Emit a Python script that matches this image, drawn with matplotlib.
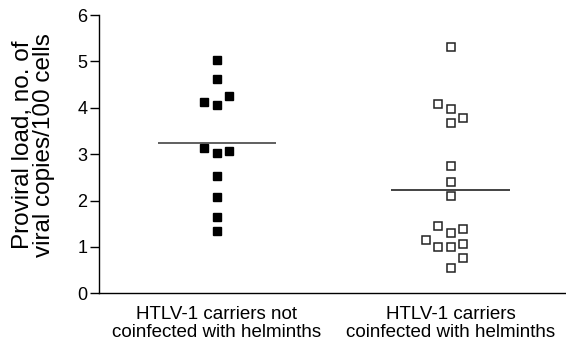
import matplotlib.pyplot as plt
import numpy as np

plt.rcParams['font.family'] = ['Liberation Sans', 'DejaVu Sans']

groups = ["HTLV-1 carriers not\ncoinfected with helminths",
          "HTLV-1 carriers\ncoinfected with helminths"]

# proviral load
no_helm = [5.02, 4.62, 4.25, 4.12, 4.07, 3.14, 3.02, 3.07, 2.53, 2.08, 1.64, 1.35]
no_helm_off = [0, 0, 1, -1, 0, -1, 0, 1, 0, 0, 0, 0]
helm = [5.30, 4.08, 3.97, 3.77, 3.68, 2.74, 2.39, 2.10, 1.45, 1.31, 1.39,
        1.15, 1.00, 1.00, 1.06, 0.75, 0.55]
helm_off = [0, -1, 0, 1, 0, 0, 0, 0, -1, 0, 1, -2, -1, 0, 1, 1, 0]

fig = plt.figure(figsize=(5.66, 3.45), dpi=100)
ax = fig.add_axes([0.175, 0.15, 0.825, 0.8065])

step = 0.053
ax.plot(1 + np.array(no_helm_off) * step, no_helm, "s", color="black",
        markersize=6.2, linestyle="none")
ax.plot(2 + np.array(helm_off) * step, helm, "s", markerfacecolor="white",
        markeredgecolor="#222222", markeredgewidth=1.1, markersize=6.3,
        linestyle="none")

w = 0.253
ax.hlines(np.mean(no_helm), 1 - w, 1 + w, color="#444444", linewidth=1.2)
ax.hlines(np.mean(helm), 2 - w, 2 + w, color="#222222", linewidth=1.2)

ax.set_xlim(0.497, 2.493)
ax.set_ylim(0, 6)
ax.set_yticks(range(7))
ax.set_xticks([1, 2])
ax.set_xticklabels(groups, fontsize=13.5, linespacing=1.12)
ax.tick_params(axis="x", length=0, pad=9)
ax.tick_params(axis="y", labelsize=13, length=6.5, width=1, direction="out", pad=2)

for s in ["top", "right"]:
    ax.spines[s].set_visible(False)
ax.spines["left"].set_linewidth(1)
ax.spines["bottom"].set_linewidth(1)

ax.set_ylabel("Proviral load, no. of\nviral copies/100 cells", fontsize=17.5,
              linespacing=0.95)
ax.yaxis.set_label_coords(-0.094, 0.533)

fig.savefig("out.png", dpi=100)
